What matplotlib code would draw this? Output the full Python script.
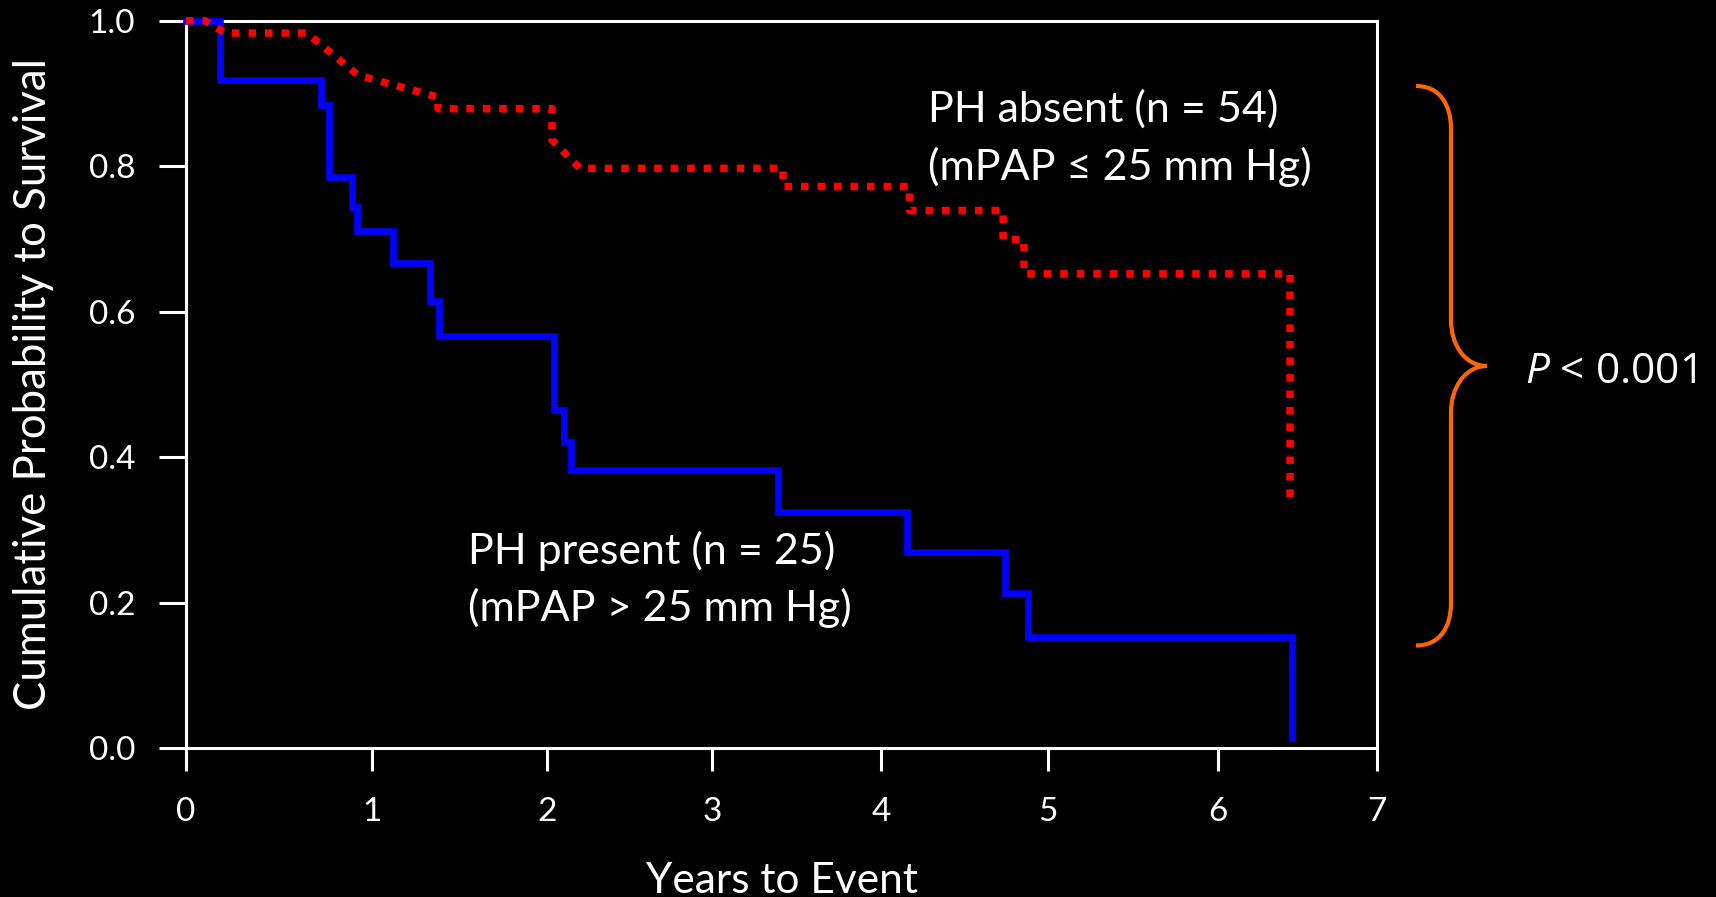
import numpy as np
import matplotlib
matplotlib.use("Agg")
import matplotlib.pyplot as plt
from matplotlib.path import Path
from matplotlib.patches import PathPatch

W, H = 1716, 897

# PH present (mPAP > 25 mm Hg) - Kaplan-Meier steps
present_years = [0, 0.183, 0.726, 0.769, 0.892, 0.919, 1.12, 1.331, 1.383,
                 2.042, 2.103, 2.145, 3.388, 4.157, 4.741, 4.878, 6.463]
present_surv = [1.0, 0.918, 0.884, 0.785, 0.744, 0.711, 0.667, 0.615, 0.566,
                0.465, 0.421, 0.382, 0.324, 0.270, 0.213, 0.153, 0.014]

# PH absent (mPAP <= 25 mm Hg) - traced polyline (has a few sloped parts)
absent_years = [0, 0.102, 0.21, 0.65, 0.925, 1.377, 1.377, 2.03, 2.03, 2.2,
                3.42, 3.42, 4.171, 4.171, 4.731, 4.731, 4.856, 4.856, 6.453, 6.453]
absent_surv = [1.0, 1.0, 0.983, 0.983, 0.925, 0.895, 0.879, 0.879, 0.836, 0.797,
               0.797, 0.772, 0.772, 0.739, 0.739, 0.699, 0.699, 0.652, 0.652, 0.338]

x_ticks = [0, 1, 2, 3, 4, 5, 6, 7]
y_ticks = [0.0, 0.2, 0.4, 0.6, 0.8, 1.0]
# year ticks on the original are not evenly spaced: pixel x of each one
x_tick_px = [186, 372, 547, 712, 881, 1048, 1218, 1377]

plt.rcParams['font.family'] = ['Lato', 'DejaVu Sans']
plt.rcParams['mathtext.fontset'] = 'custom'
plt.rcParams['mathtext.it'] = 'Open Sans:italic'
plt.rcParams['mathtext.rm'] = 'Open Sans'


def px(x, y):
    # picture pixel -> figure fraction
    return x / W, 1 - y / H


fig = plt.figure(figsize=(W / 100, H / 100), dpi=100, facecolor='black')
left, top = px(186, 20.7)
right, bottom = px(1377, 748)
ax = fig.add_axes([left, bottom, right - left, top - bottom], facecolor='black')

# piecewise linear year scale so the ticks land where the original has them
pxs = np.array(x_tick_px, float)
yrs = np.array(x_ticks, float)
pxs = np.concatenate([[pxs[0] - 7 * (pxs[1] - pxs[0])], pxs, [pxs[-1] + 7 * (pxs[-1] - pxs[-2])]])
yrs = np.concatenate([[-7.0], yrs, [14.0]])


def fwd(x):
    return np.interp(x, yrs, pxs)


def inv(p):
    return np.interp(p, pxs, yrs)


ax.set_xscale('function', functions=(fwd, inv))

ax.step(present_years, present_surv, where='post', color='#0000ff', lw=4.8,
        solid_joinstyle='miter', clip_on=False, zorder=3)
ax.plot(absent_years, absent_surv, color='#ff0000', lw=5.4,
        linestyle=(0, (1, 1.2)), dash_capstyle='butt', clip_on=False, zorder=4)

ax.set_xlim(0, 7)
ax.set_ylim(0, 1)
ax.set_xticks(x_ticks)
ax.set_xticklabels([str(t) for t in x_ticks])
ax.set_yticks(y_ticks)
ax.set_yticklabels([f"{t:.1f}" for t in y_ticks])

for s in ax.spines.values():
    s.set_color('white')
    s.set_linewidth(2.2)
ax.tick_params(axis='y', colors='white', labelsize=24, length=19.5, width=2.2, pad=17)
ax.tick_params(axis='x', colors='white', labelsize=24, length=16.5, width=2.2, pad=19)

ax.set_xlabel("Years to Event", color='white', fontsize=30.5)
ax.xaxis.set_label_coords(0.5, (748 - 893) / (748 - 20.7))
ax.xaxis.label.set_va('baseline')
ax.set_ylabel("Cumulative Probability to Survival", color='white', fontsize=31.5)
ax.yaxis.set_label_coords((33 - 186) / (1377 - 186), 0.5)
ax.yaxis.label.set_va('center')

# curve labels
txt = dict(color='white', fontsize=31, ha='left', va='baseline')
fig.text(*px(928, 121.7), "PH absent (n = 54)", **txt)
fig.text(*px(928, 180), "(mPAP \u2264 25 mm Hg)", **txt)
fig.text(*px(468, 564), "PH present (n = 25)", **txt)
fig.text(*px(468, 620.7), "(mPAP > 25 mm Hg)", **txt)

# orange brace and p value
verts = [(1416, 86), (1440, 86), (1451, 105), (1451, 129),
         (1451, 320),
         (1451, 345), (1465, 366), (1487, 366),
         (1465, 366), (1451, 388), (1451, 412),
         (1451, 603),
         (1451, 627), (1440, 645.5), (1416, 645.5)]
codes = [Path.MOVETO, Path.CURVE4, Path.CURVE4, Path.CURVE4,
         Path.LINETO,
         Path.CURVE4, Path.CURVE4, Path.CURVE4,
         Path.CURVE4, Path.CURVE4, Path.CURVE4,
         Path.LINETO,
         Path.CURVE4, Path.CURVE4, Path.CURVE4]
brace = Path([px(x, y) for x, y in verts], codes)
fig.add_artist(PathPatch(brace, transform=fig.transFigure, fill=False,
                         edgecolor='#ff6600', lw=3.0, capstyle='butt'))
fig.text(*px(1525, 383), r"$P$ < 0.001", color='white', fontsize=30.5,
         family='Open Sans', ha='left', va='baseline')

fig.savefig("out.png", dpi=100, facecolor='black')
